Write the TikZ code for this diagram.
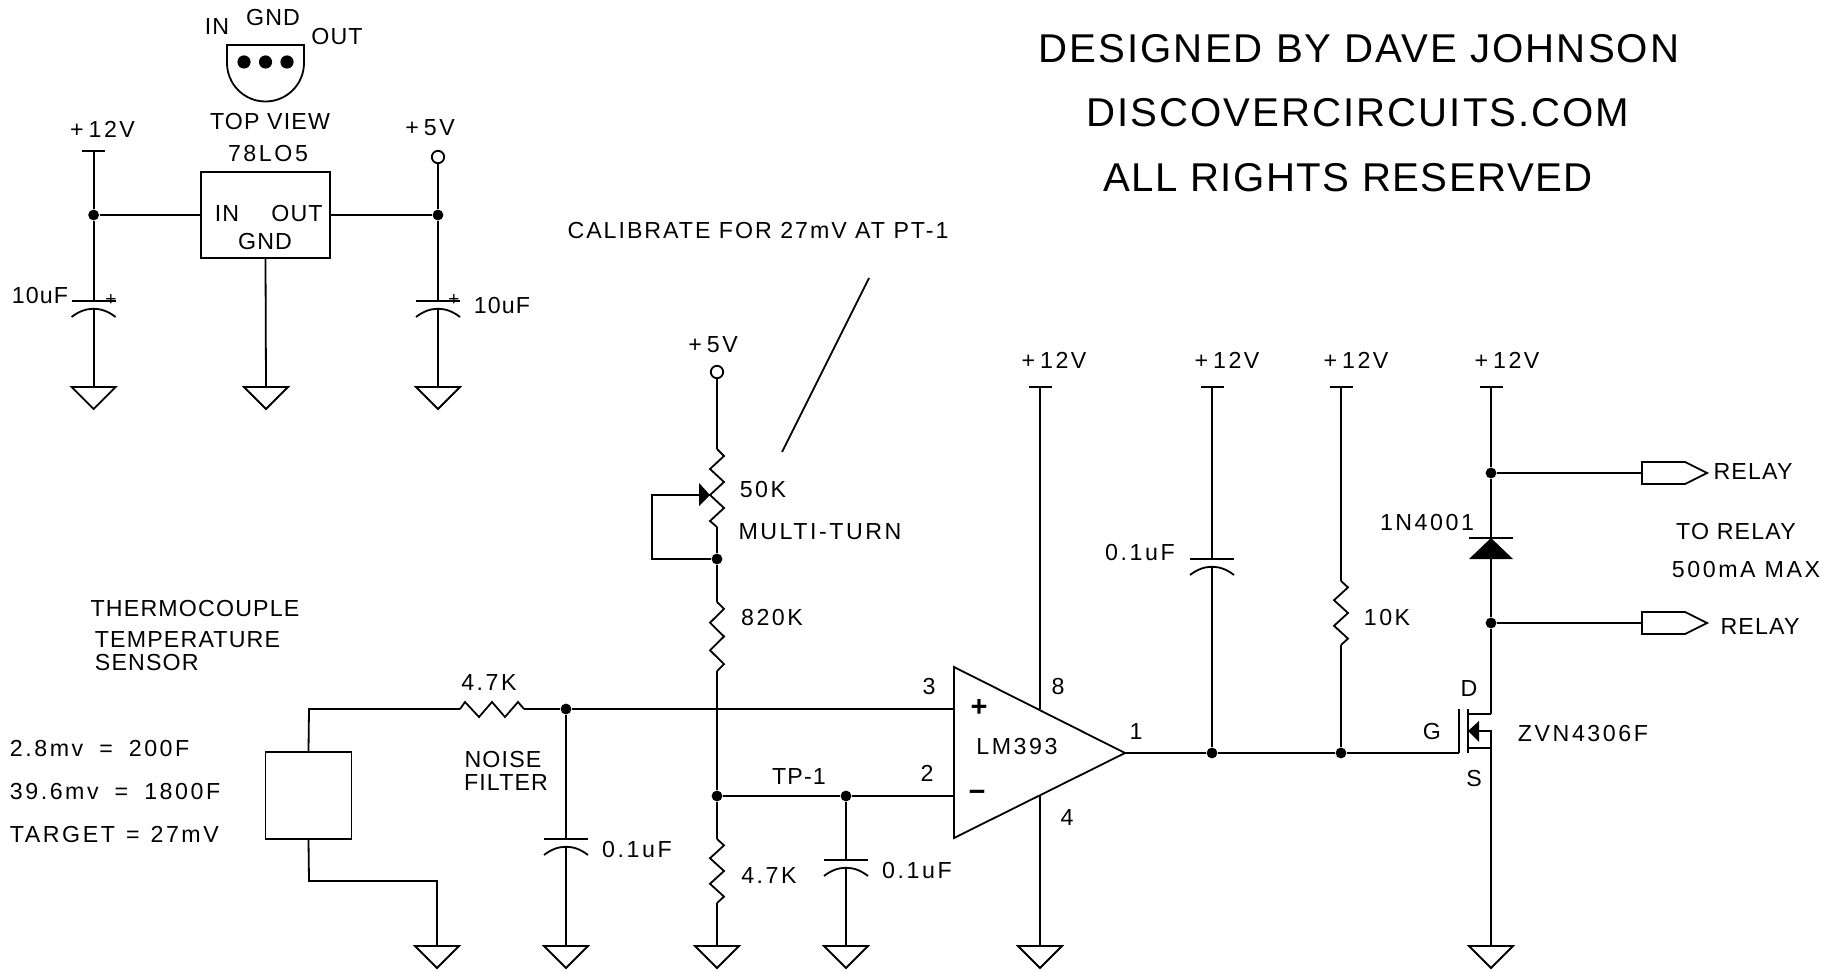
\documentclass[tikz,border=0pt]{standalone}
\usepackage{fontspec}
\setmainfont[LetterSpace=5]{Liberation Sans}
\usetikzlibrary{calc}
\tikzset{
  lbl/.style={inner sep=0pt, font=\fontsize{11.6}{13}\selectfont},
  lblw/.style={inner sep=0pt, font=\fontsize{11.6}{13}\selectfont\addfontfeatures{LetterSpace=11}},
  ttl/.style={inner sep=0pt, font=\fontsize{20.1}{24}\selectfont},
  dot/.style={circle, fill=black, inner sep=0pt, minimum size=5.4pt},
  open/.style={circle, draw, fill=white, inner sep=0pt, minimum size=6.2pt},
  pinbox/.style={draw, inner sep=0pt, minimum width=64.5pt, minimum height=43pt}
}
\newcommand{\gndsym}[1]{\draw (#1) ++(-22,0) -- ++(44,0) -- ++(-22,22) -- cycle;}
\newcommand{\railbar}[1]{\draw (#1) ++(-11.5,0) -- ++(23,0);}
\newcommand{\capv}[1]{
  \draw (#1) ++(-22,0) -- ++(44,0);
  \draw ($(#1)+(-22,16)$) .. controls ($(#1)+(-8,5)$) and ($(#1)+(8,5)$) .. ($(#1)+(22,16)$);
  \coordinate (#1b) at ($(#1)+(0,8)$);
}
\newcommand{\zigv}[3]{\draw (#1) -- ++(7,0.5*#3) -- ++(-14,#3) -- ++(14,#3) -- ++(-14,#3) -- ++(14,#3) -- ++(-7,0.5*#3) coordinate (#2);}

\begin{document}
\begin{tikzpicture}[x=0.5pt, y=-0.5pt, line width=0.9pt]
\useasboundingbox (0,0) rectangle (1832,973);

\node[ttl] (title1) at (1359,49) {DESIGNED BY DAVE JOHNSON};
\node[ttl] (title2) at (1358,113) {DISCOVERCIRCUITS.COM};
\node[ttl, font=\fontsize{20.1}{24}\selectfont\addfontfeatures{LetterSpace=3.7}] (title3) at (1348,178) {ALL RIGHTS RESERVED};

\node[lbl] (pkgin) at (217,27) {IN};
\node[lbl] (pkggnd) at (273,18) {GND};
\node[lbl] (pkgout) at (337,37) {OUT};
\draw (227,45) -- (304,45) -- (304,63) arc (0:180:38.5) -- cycle;
\node[dot, minimum size=6.6pt] (pin1) at (244,62) {};
\node[dot, minimum size=6.6pt] (pin2) at (265.5,62) {};
\node[dot, minimum size=6.6pt] (pin3) at (287,62) {};
\node[lbl] (topview) at (270,122) {TOP VIEW};
\node[lblw] (partreg) at (268,154) {78LO5};

\node[pinbox] (reg) at (265.5,215) {};
\node[lbl] (regin) at (227,214) {IN};
\node[lbl] (regout) at (297,214) {OUT};
\node[lbl] (reggnd) at (265,242) {GND};

\node[lblw] (v12a) at (102.5,129) {+\hspace{2.5pt}12V};
\node[lblw] (v5a) at (430,128) {+\hspace{2.5pt}5V};
\node[lbl] (c1val) at (40,296) {10uF};
\node[lbl] (c2val) at (502,306) {10uF};
\node[lbl, font=\fontsize{9.5}{11}\selectfont] (c1plus) at (111,300) {+};
\node[lbl, font=\fontsize{9.5}{11}\selectfont] (c2plus) at (454,300) {+};

\coordinate (V1) at (93.6,151);
\node[dot] (J1) at (93.6,215) {};
\coordinate (C1) at (93.6,301);
\coordinate (G1) at (93.6,387);
\node[open] (V2) at (438,157) {};
\node[dot] (J2) at (438,215) {};
\coordinate (C2) at (438,301);
\coordinate (G3) at (438,387);
\coordinate (G2) at (266,387);
\railbar{V1}
\capv{C1}
\capv{C2}
\gndsym{G1}
\gndsym{G2}
\gndsym{G3}
\draw (V1) -- (J1) -- (C1);
\draw (C1b) -- (G1);
\draw (J1) -- (reg.west);
\draw (reg.east) -- (J2);
\draw (V2) -- (J2) -- (C2);
\draw (C2b) -- (G3);
\draw (reg.south) -- (G2);

\node[lbl, font=\fontsize{11.6}{13}\selectfont\addfontfeatures{LetterSpace=8.5}] (calnote) at (758,231) {CALIBRATE FOR 27mV AT PT-1};
\coordinate (calA) at (869,278);
\coordinate (calB) at (782,452);
\draw (calA) -- (calB);

\node[lblw] (v5b) at (713,345) {+\hspace{2.5pt}5V};
\node[open] (V3) at (717,372) {};
\coordinate (P1) at (717,449);
\coordinate (P2) at (717,527);
\coordinate (Wp) at (710,495);
\coordinate (Wl) at (652,495);
\coordinate (Wb) at (652,559);
\node[dot] (J3) at (717,559) {};
\coordinate (R2a) at (717,602);
\node[dot] (J4) at (717,796) {};
\coordinate (R3a) at (717,839);
\coordinate (G6) at (717,946);
\draw (P1) -- ++(7,7) -- ++(-14,13) -- ++(14,13) -- ++(-14,13) -- ++(14,13) -- ++(-14,13) -- (P2);
\fill (Wp) -- ++(-11,-12) -- ++(0,23) -- cycle;
\draw (V3) -- (P1);
\draw (P2) -- (J3);
\draw (Wp) -- (Wl) -- (Wb) -- (J3);
\draw (J3) -- (R2a);
\zigv{R2a}{R2e}{13.8}
\draw (R2e) -- (J4);
\draw (J4) -- (R3a);
\zigv{R3a}{R3e}{12.8}
\draw (R3e) -- (G6);
\gndsym{G6}
\node[lblw] (potval) at (763,490) {50K};
\node[lblw] (pottype) at (820,532) {MULTI-TURN};
\node[lblw] (r2val) at (772,618) {820K};
\node[lblw] (r3val) at (769,876) {4.7K};

\node[lbl] (sens1) at (195,609) {THERMOCOUPLE};
\node[lbl, anchor=west] (sens2) at (94,640) {TEMPERATURE};
\node[lbl, anchor=west] (sens3) at (94,663) {SENSOR};
\node[lblw, anchor=west] (temp1) at (9,749) {2.8mv\hspace{3.5pt} = \hspace{3.5pt}200F};
\node[lblw, anchor=west] (temp2) at (9,792) {39.6mv\hspace{3.5pt} = \hspace{3.5pt}1800F};
\node[lblw, anchor=west] (temp3) at (9,835) {TARGET\hspace{1pt} = \hspace{1pt}27mV};

\node[draw, inner sep=0pt, minimum width=43pt, minimum height=43.5pt] (sensor) at (308.5,795.5) {};
\coordinate (S1) at (309,709);
\coordinate (S2) at (309,881);
\coordinate (S3) at (437,881);
\coordinate (G4) at (437,946);
\coordinate (R1a) at (460,709);
\coordinate (R1b) at (524,709);
\node[dot] (J5) at (566,709) {};
\coordinate (C3) at (566,839);
\coordinate (G5) at (566,946);
\node[dot] (J6) at (846,796) {};
\coordinate (C4) at (846,860);
\coordinate (G7) at (846,946);
\capv{C3}
\capv{C4}
\gndsym{G4}
\gndsym{G5}
\gndsym{G7}
\draw (sensor.north) -- (S1) -- (R1a);
\draw (R1a) -- ++(5,-7) -- ++(14,15) -- ++(13,-15) -- ++(13,15) -- ++(13,-15) -- (R1b);
\draw (R1b) -- (J5);
\draw (sensor.south) -- (S2) -- (S3) -- (G4);
\draw (J5) -- (C3);
\draw (C3b) -- (G5);
\draw (C4b) -- (G7);
\draw (J6) -- (C4);
\node[lblw] (r1val) at (489,683) {4.7K};
\node[lbl] (noise) at (503,760) {NOISE};
\node[lbl] (filter) at (506,783) {FILTER};
\node[lblw] (c3val) at (637,850) {0.1uF};
\node[lblw] (c4val) at (917,871) {0.1uF};
\node[lbl] (tp1) at (799,777) {TP-1};

\coordinate (Ua) at (954,667);
\coordinate (Ub) at (954,838);
\coordinate (Uo) at (1125,753);
\coordinate (Up) at (954,709);
\coordinate (Un) at (954,796);
\coordinate (Uv) at (1040,709);
\coordinate (Ug) at (1040,796);
\draw (Ua) -- (Uo) -- (Ub) -- cycle;
\draw (J5) -- (Up);
\draw (J4) -- (J6) -- (Un);
\coordinate (V4) at (1040,387);
\coordinate (G8) at (1040,946);
\railbar{V4}
\gndsym{G8}
\draw (V4) -- (Uv);
\draw (Ug) -- (G8);
\node[lbl] (pin3l) at (929,687) {3};
\node[lbl] (pin2l) at (927,773) {2};
\node[lbl] (pin8l) at (1058,687) {8};
\node[lbl] (pin1l) at (1136,732) {1};
\node[lbl] (pin4l) at (1067,818) {4};
\node[lblw] (opname) at (1017,747) {LM393};
\node[lbl, font=\bfseries\fontsize{14.5}{16}\selectfont] (opplus) at (979,708) {+};
\node[lbl, font=\bfseries\fontsize{14.5}{16}\selectfont] (opminus) at (977,796) {−};
\node[lblw] (v12b) at (1054,360) {+\hspace{2.5pt}12V};

\coordinate (V5) at (1212,387);
\node[dot] (J7) at (1212,753) {};
\coordinate (C5) at (1212,559);
\coordinate (V6) at (1341,387);
\node[dot] (J8) at (1341,753) {};
\coordinate (R4a) at (1341,581);
\railbar{V5}
\railbar{V6}
\capv{C5}
\draw (V5) -- (C5);
\draw (C5b) -- (J7);
\draw (V6) -- (R4a);
\zigv{R4a}{R4e}{12.8}
\draw (R4e) -- (J8);
\node[lblw] (v12c) at (1227,360) {+\hspace{2.5pt}12V};
\node[lblw] (v12d) at (1356,360) {+\hspace{2.5pt}12V};
\node[lblw] (c5val) at (1140,553) {0.1uF};
\node[lblw] (r4val) at (1387,618) {10K};

\coordinate (V7) at (1491,387);
\node[dot] (J9) at (1491,473) {};
\coordinate (D1) at (1491,538);
\coordinate (D2) at (1491,559);
\node[dot] (J10) at (1491,623) {};
\coordinate (Qd) at (1491,714);
\coordinate (Qb) at (1491,731);
\coordinate (Qs) at (1491,748);
\coordinate (Qg) at (1459,753);
\coordinate (G9) at (1491,946);
\railbar{V7}
\gndsym{G9}
\draw (V7) -- (J9) -- (D1);
\draw (D1) ++(-22,0) -- ++(44,0);
\fill (D1) -- ++(22,21) -- ++(-44,0) -- cycle;
\draw (D2) -- (J10) -- (Qd);
\draw (Qd) -- (1468,714);
\draw (1459,709) -- (Qg);
\draw (1468,709) -- (1468,753);
\fill (1468,731) -- ++(11,-10) -- ++(0,21) -- cycle;
\draw (1479,731) -- (Qb) -- (Qs);
\draw (1468,748) -- (Qs) -- (G9);
\draw (Uo) -- (J7) -- (J8) -- (Qg);
\node[lblw] (v12e) at (1507,360) {+\hspace{2.5pt}12V};
\node[lblw] (dval) at (1427,523) {1N4001};
\node[lbl] (qd) at (1469,689) {D};
\node[lbl] (qg) at (1432,732) {G};
\node[lbl] (qs) at (1474,779) {S};
\node[lblw] (qval) at (1583,734) {ZVN4306F};

\coordinate (P3) at (1642,473);
\coordinate (P4) at (1642,623);
\draw (J9) -- (P3);
\draw (J10) -- (P4);
\draw (P3) ++(0,-11) -- ++(43,0) -- ++(22,11) -- ++(-22,11) -- ++(-43,0) -- cycle;
\draw (P4) ++(0,-11) -- ++(43,0) -- ++(22,11) -- ++(-22,11) -- ++(-43,0) -- cycle;
\node[lbl] (rel1) at (1753,472) {RELAY};
\node[lbl] (rel2) at (1760,627) {RELAY};
\node[lbl] (torel) at (1736,532) {TO RELAY};
\node[lblw] (relmax) at (1746,570) {500mA MAX};
\end{tikzpicture}
\end{document}
